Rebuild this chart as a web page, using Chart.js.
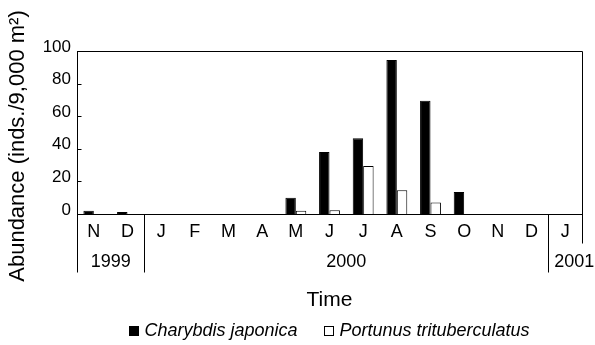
<!DOCTYPE html>
<html>
<head>
<meta charset="utf-8">
<script src="https://cdn.jsdelivr.net/npm/chart.js@4.4.1/dist/chart.umd.min.js"></script>
<style>
  html, body { margin: 0; padding: 0; background: #fff; }
  #wrap { width: 595px; height: 345px; }
</style>
</head>
<body>
<div id="wrap"><canvas id="grafica"></canvas></div>
<script>
'use strict';

/* ── DATOS ── */
const MESES     = ['N', 'D', 'J', 'F', 'M', 'A', 'M', 'J', 'J', 'A', 'S', 'O', 'N', 'D', 'J'];
const ANIOS     = ['1999', '1999', '2000', '2000', '2000', '2000', '2000', '2000',
                   '2000', '2000', '2000', '2000', '2000', '2000', '2001'];
const CHARYBDIS = [2, 1.2, 0, 0, 0, 0, 10, 38, 46.5, 94.5, 69.5, 13.5, 0, 0, 0];
const PORTUNUS  = [0, 0, 0, 0, 0, 0, 2, 2.3, 29.5, 14.5, 7, 0, 0, 0, 0];
const Y_TICKS   = [0, 20, 40, 60, 80, 100];

const TITULO_Y  = 'Abundance (inds./9,000 m\u00B2)';
const TITULO_X  = 'Time';
const SERIES    = ['Charybdis japonica', 'Portunus trituberculatus'];

const FUENTE = "'Liberation Sans', Arial, sans-serif";
const NEGRO  = '#000';

/* ── PLUGIN: marco, separadores de año, títulos y leyenda ── */
const decoracion = {
  id: 'decoracion',
  afterDraw(chart) {
    const { ctx, chartArea: a, scales: { x, y } } = chart;
    const linea = (x1, y1, x2, y2) => {
      ctx.beginPath();
      ctx.moveTo(Math.round(x1) + 0.5, Math.round(y1) + 0.5);
      ctx.lineTo(Math.round(x2) + 0.5, Math.round(y2) + 0.5);
      ctx.stroke();
    };

    ctx.save();
    ctx.strokeStyle = NEGRO;
    ctx.lineWidth = 1;

    /* marco superior y derecho */
    linea(a.left, a.top, a.right, a.top);
    linea(a.right, a.top, a.right, a.bottom + 29);

    /* ticks hacia dentro */
    y.ticks.forEach(t => {
      const py = y.getPixelForValue(t.value);
      linea(a.left, py, a.left + 4, py);
    });

    /* eje izquierdo prolongado */
    linea(a.left, a.bottom, a.left, a.bottom + 58);

    /* grupos por año */
    const mitad = (x.getPixelForValue(1) - x.getPixelForValue(0)) / 2;
    const grupos = [];
    ANIOS.forEach((anio, i) => {
      const g = grupos[grupos.length - 1];
      if (g && g.anio === anio) g.fin = i;
      else grupos.push({ anio, ini: i, fin: i });
    });

    ctx.fillStyle = NEGRO;
    ctx.font = `18px ${FUENTE}`;
    ctx.textBaseline = 'middle';
    grupos.forEach((g, k) => {
      const x0 = x.getPixelForValue(g.ini) - mitad;
      const x1 = x.getPixelForValue(g.fin) + mitad;
      if (k > 0) linea(x0, a.bottom, x0, a.bottom + 58);
      if (k === grupos.length - 1 && g.ini === g.fin) {
        ctx.textAlign = 'left';
        ctx.fillText(g.anio, x0 + 6, a.bottom + 48);
      } else {
        ctx.textAlign = 'center';
        ctx.fillText(g.anio, (x0 + x1) / 2, a.bottom + 48);
      }
    });

    /* título eje x */
    const cx = (a.left + a.right) / 2;
    ctx.font = `21px ${FUENTE}`;
    ctx.textAlign = 'center';
    ctx.fillText(TITULO_X, cx, a.bottom + 86);

    /* título eje y */
    ctx.save();
    ctx.translate(18, 146);
    ctx.rotate(-Math.PI / 2);
    ctx.font = `22px ${FUENTE}`;
    ctx.fillText(TITULO_Y, 0, 0);
    ctx.restore();

    /* leyenda */
    ctx.font = `italic 18px ${FUENTE}`;
    ctx.textAlign = 'left';
    const caja = 10, hueco = 5, sep = 27;
    const anchos = SERIES.map(s => ctx.measureText(s).width);
    const total = anchos.reduce((s, w) => s + w + caja + hueco, 0) + sep * (SERIES.length - 1);
    let lx = cx - total / 2;
    const ly = a.bottom + 117;
    chart.data.datasets.forEach((ds, i) => {
      ctx.fillStyle = ds.backgroundColor;
      ctx.fillRect(Math.round(lx) + 0.5, Math.round(ly - caja / 2) + 0.5, caja - 1, caja - 1);
      ctx.strokeRect(Math.round(lx) + 0.5, Math.round(ly - caja / 2) + 0.5, caja - 1, caja - 1);
      ctx.fillStyle = NEGRO;
      ctx.fillText(SERIES[i], lx + caja + hueco, ly);
      lx += caja + hueco + anchos[i] + sep;
    });

    ctx.restore();
  }
};

/* ── GRÁFICA ── */
new Chart(document.getElementById('grafica').getContext('2d'), {
  type: 'bar',
  data: {
    labels: MESES,
    datasets: [
      {
        label: SERIES[0],
        data: CHARYBDIS,
        backgroundColor: NEGRO,
        borderColor: NEGRO,
        borderWidth: 1,
      },
      {
        label: SERIES[1],
        data: PORTUNUS,
        backgroundColor: '#fff',
        borderColor: NEGRO,
        borderWidth: 1,
      }
    ]
  },
  options: {
    responsive: true,
    maintainAspectRatio: false,
    animation: false,
    datasets: { bar: { categoryPercentage: 0.62, barPercentage: 1 } },
    layout: { padding: { left: 0, right: 13, top: 51, bottom: 0 } },
    plugins: { legend: { display: false }, tooltip: { enabled: false } },
    scales: {
      x: {
        grid: { display: false, drawTicks: false },
        border: { display: true, color: NEGRO, width: 1 },
        ticks: { color: NEGRO, font: { family: FUENTE, size: 18 }, padding: 7, maxRotation: 0, autoSkip: false },
        afterFit(s) { s.height = 131; }
      },
      y: {
        min: Y_TICKS[0],
        max: Y_TICKS[Y_TICKS.length - 1],
        grid: { display: false, drawTicks: false },
        border: { display: true, color: NEGRO, width: 1 },
        ticks: {
          stepSize: Y_TICKS[1] - Y_TICKS[0],
          color: NEGRO,
          font: { family: FUENTE, size: 17 },
          padding: 6,
          labelOffset: -4
        },
        afterFit(s) { s.width = 77; }
      }
    }
  },
  plugins: [decoracion]
});
</script>
</body>
</html>
